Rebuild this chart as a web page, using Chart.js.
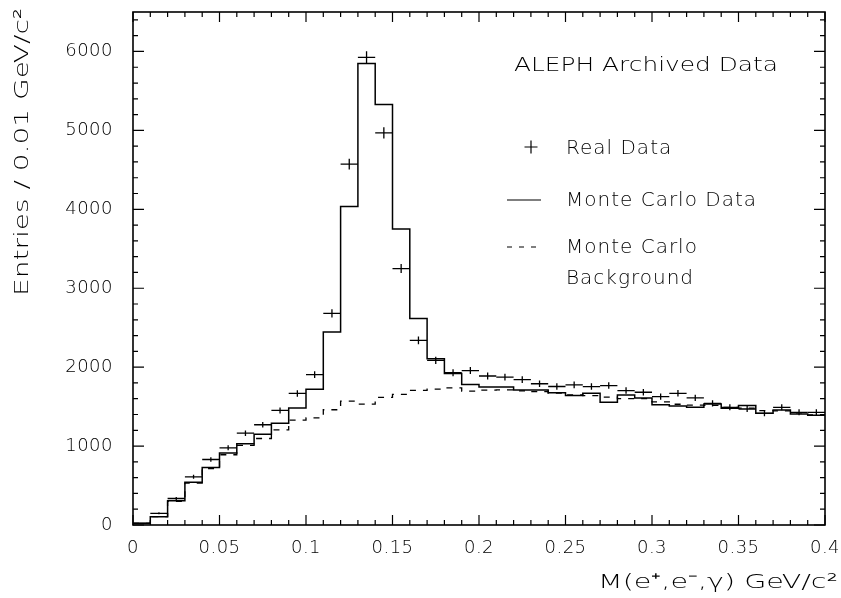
<!DOCTYPE html>
<html>
<head>
<meta charset="utf-8">
<script src="https://cdn.jsdelivr.net/npm/chart.js@4.4.1/dist/chart.umd.min.js"></script>
<style>
  html, body { margin: 0; padding: 0; background: #ffffff; }
  #wrap { width: 841px; height: 598px; }
</style>
</head>
<body>
<div id="wrap"><canvas id="c" width="841" height="598"></canvas></div>
<script>
// ---------------- data ----------------
const binEdges = [0.00, 0.01, 0.02, 0.03, 0.04, 0.05, 0.06, 0.07, 0.08, 0.09,
                  0.10, 0.11, 0.12, 0.13, 0.14, 0.15, 0.16, 0.17, 0.18, 0.19,
                  0.20, 0.21, 0.22, 0.23, 0.24, 0.25, 0.26, 0.27, 0.28, 0.29,
                  0.30, 0.31, 0.32, 0.33, 0.34, 0.35, 0.36, 0.37, 0.38, 0.39];
const binWidth = 0.01;
const xUpperEdge = 0.40;

const realData = [25, 148, 336, 611, 830, 978, 1163, 1270, 1452, 1667,
                  1905, 2681, 4572, 5925, 4968, 3249, 2340, 2086, 1929, 1957,
                  1888, 1873, 1843, 1790, 1755, 1775, 1754, 1767, 1703, 1682,
                  1627, 1669, 1610, 1542, 1491, 1470, 1415, 1491, 1428, 1428];

const mcData = [20, 105, 306, 541, 729, 913, 1028, 1150, 1290, 1482,
                1721, 2445, 4035, 5849, 5328, 3751, 2616, 2107, 1921, 1780,
                1750, 1747, 1712, 1712, 1677, 1640, 1669, 1555, 1648, 1610,
                1525, 1508, 1491, 1534, 1479, 1513, 1415, 1458, 1407, 1390];

const mcBackground = [20, 105, 300, 530, 716, 890, 1008, 1096, 1205, 1330,
                      1357, 1460, 1569, 1531, 1616, 1656, 1706, 1722, 1738, 1697,
                      1708, 1712, 1700, 1690, 1672, 1650, 1640, 1620, 1600, 1600,
                      1560, 1530, 1520, 1515, 1490, 1480, 1450, 1445, 1420, 1395];

const xTickLabels = ['0', '0.05', '0.1', '0.15', '0.2', '0.25', '0.3', '0.35', '0.4'];
const yTickLabels = ['0', '1000', '2000', '3000', '4000', '5000', '6000'];
const yMax = 6500;
const yMinorStep = 200;

const xTitle = 'M(e\u207A,e\u207B,\u03B3) GeV/c\u00B2';
const yTitle = 'Entries / 0.01 GeV/c\u00B2';
const plotTitle = 'ALEPH Archived Data';
const legendReal = 'Real Data';
const legendMC = 'Monte Carlo Data';
const legendBg1 = 'Monte Carlo';
const legendBg2 = 'Background';

// ---------------- styling ----------------
const FAMILY = '"DejaVu Sans", "Liberation Sans", sans-serif';
const WEIGHT = 200;
const TICK_SPACING = '0.5px';
const TEXT_FONT = WEIGHT + ' 20px ' + FAMILY;

function stepPoints(vals) {
  const pts = binEdges.map((e, i) => ({ x: e, y: vals[i] }));
  pts.push({ x: xUpperEdge, y: vals[vals.length - 1] });
  return pts;
}
const realPoints = binEdges.map((e, i) => ({ x: e + binWidth / 2, y: realData[i] }));

function drawStretched(ctx, text, x, y, target, align, rotation) {
  ctx.save();
  ctx.letterSpacing = '0px';
  ctx.font = TEXT_FONT;
  const w = ctx.measureText(text).width;
  ctx.translate(x, y);
  if (rotation) ctx.rotate(rotation);
  ctx.scale(target / w, 1);
  ctx.textAlign = align;
  ctx.fillText(text, 0, 0);
  ctx.restore();
}

const spacingPlugin = {
  id: 'spacing',
  beforeUpdate(c) { c.ctx.letterSpacing = TICK_SPACING; },
  beforeLayout(c) { c.ctx.letterSpacing = TICK_SPACING; },
  beforeDraw(c) { c.ctx.letterSpacing = TICK_SPACING; }
};

const crossesPlugin = {
  id: 'crosses',
  afterDatasetsDraw(c) {
    const xs = c.scales.x, ys = c.scales.y, ctx = c.ctx, a = c.chartArea;
    const ds = c.data.datasets[2];
    ctx.save();
    ctx.beginPath();
    ctx.rect(a.left, a.top, a.right - a.left, a.bottom - a.top);
    ctx.clip();
    ctx.strokeStyle = '#000';
    ctx.lineWidth = 1.3;
    ds.data.forEach((p, i) => {
      const xl = xs.getPixelForValue(binEdges[i]);
      const xr = xs.getPixelForValue(binEdges[i] + binWidth);
      const xc = xs.getPixelForValue(p.x);
      const y = ys.getPixelForValue(p.y);
      const err = Math.sqrt(p.y);
      const yt = ys.getPixelForValue(p.y + err);
      const yb = ys.getPixelForValue(p.y - err);
      ctx.beginPath();
      ctx.moveTo(xl, y); ctx.lineTo(xr, y);
      ctx.moveTo(xc, yt); ctx.lineTo(xc, yb);
      ctx.stroke();
    });
    ctx.restore();
  }
};

const framePlugin = {
  id: 'frame',
  afterDraw(c) {
    const xs = c.scales.x, ys = c.scales.y, ctx = c.ctx, a = c.chartArea;
    ctx.save();
    ctx.strokeStyle = '#000';
    ctx.lineWidth = 1.6;
    ctx.strokeRect(a.left, a.top, a.right - a.left, a.bottom - a.top);
    ctx.lineWidth = 1.2;
    ctx.beginPath();
    const xMinor = binEdges.concat([xUpperEdge]);
    xMinor.forEach(v => {
      const px = xs.getPixelForValue(v);
      ctx.moveTo(px, a.bottom); ctx.lineTo(px, a.bottom - 5);
      ctx.moveTo(px, a.top); ctx.lineTo(px, a.top + 5);
    });
    xs.ticks.forEach(t => {
      const px = xs.getPixelForValue(t.value);
      ctx.moveTo(px, a.bottom); ctx.lineTo(px, a.bottom - 10);
      ctx.moveTo(px, a.top); ctx.lineTo(px, a.top + 10);
    });
    for (let v = 0; v <= yMax; v += yMinorStep) {
      const py = ys.getPixelForValue(v);
      ctx.moveTo(a.left, py); ctx.lineTo(a.left + 5, py);
      ctx.moveTo(a.right, py); ctx.lineTo(a.right - 5, py);
    }
    ys.ticks.forEach(t => {
      const py = ys.getPixelForValue(t.value);
      ctx.moveTo(a.left, py); ctx.lineTo(a.left + 11, py);
      ctx.moveTo(a.right, py); ctx.lineTo(a.right - 11, py);
    });
    ctx.stroke();

    // axis titles and plot title
    ctx.fillStyle = '#000';
    ctx.textBaseline = 'alphabetic';
    drawStretched(ctx, xTitle, 838, 588, 240, 'right', 0);
    ctx.textBaseline = 'middle';
    drawStretched(ctx, yTitle, 23, 8, 288, 'right', -Math.PI / 2);
    ctx.textBaseline = 'alphabetic';
    drawStretched(ctx, plotTitle, 514, 71, 264, 'left', 0);

    // legend
    ctx.letterSpacing = '1px';
    ctx.font = TEXT_FONT;
    ctx.textAlign = 'left';
    ctx.textBaseline = 'alphabetic';
    ctx.fillText(legendReal, 566, 154);
    ctx.fillText(legendMC, 566, 206);
    ctx.fillText(legendBg1, 566, 253);
    ctx.fillText(legendBg2, 566, 284);
    ctx.lineWidth = 1.2;
    ctx.beginPath();
    ctx.moveTo(524.5, 147); ctx.lineTo(537.5, 147);
    ctx.moveTo(531, 140.5); ctx.lineTo(531, 153.5);
    ctx.moveTo(507, 200); ctx.lineTo(541, 200);
    ctx.stroke();
    ctx.setLineDash([5, 7]);
    ctx.beginPath();
    ctx.moveTo(507, 247); ctx.lineTo(541, 247);
    ctx.stroke();
    ctx.restore();
  }
};

const tickFont = { family: FAMILY, size: 18, weight: WEIGHT };

new Chart(document.getElementById('c'), {
  type: 'scatter',
  data: {
    datasets: [
      { type: 'line', label: legendMC, data: stepPoints(mcData), stepped: 'before',
        borderColor: '#000', borderWidth: 1.5, pointRadius: 0, fill: false },
      { type: 'line', label: legendBg1 + ' ' + legendBg2, data: stepPoints(mcBackground), stepped: 'before',
        borderColor: '#000', borderWidth: 1.3, borderDash: [6, 7], pointRadius: 0, fill: false },
      { type: 'scatter', label: legendReal, data: realPoints, pointRadius: 0, showLine: false }
    ]
  },
  options: {
    responsive: false,
    animation: false,
    devicePixelRatio: 1,
    layout: { padding: { left: 0, right: 16, top: 12, bottom: 0 } },
    plugins: { legend: { display: false }, tooltip: { enabled: false } },
    scales: {
      x: {
        type: 'linear', min: 0, max: xUpperEdge,
        grid: { display: false, drawTicks: false },
        border: { display: false },
        ticks: {
          padding: 13, maxRotation: 0, autoSkip: false, color: '#000', font: tickFont,
          callback: (v) => xTickLabels.find(l => Math.abs(Number(l) - v) < 1e-9) ?? ''
        },
        afterBuildTicks(s) { s.ticks = xTickLabels.map(l => ({ value: Number(l) })); },
        afterFit(s) { s.height = 73; s.paddingLeft = 0; s.paddingRight = 0; }
      },
      y: {
        type: 'linear', min: 0, max: yMax,
        grid: { display: false, drawTicks: false },
        border: { display: false },
        ticks: {
          padding: 20, autoSkip: false, color: '#000', font: tickFont,
          callback: (v) => yTickLabels.find(l => Number(l) === v) ?? ''
        },
        afterBuildTicks(s) { s.ticks = yTickLabels.map(l => ({ value: Number(l) })); },
        afterFit(s) { s.width = 133; s.paddingTop = 0; s.paddingBottom = 0; }
      }
    }
  },
  plugins: [spacingPlugin, crossesPlugin, framePlugin]
});
</script>
</body>
</html>
